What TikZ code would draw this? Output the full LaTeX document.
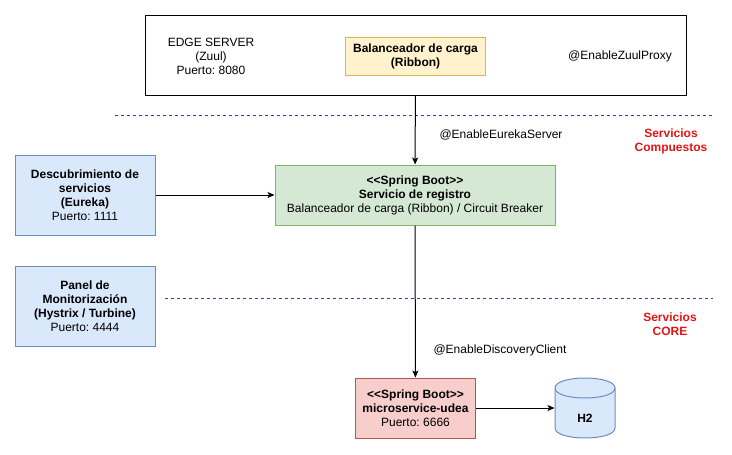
\documentclass[tikz,border=0pt]{standalone}
\usepackage{fontspec}
\setmainfont{Liberation Sans}[Ligatures=TeXOff]
\usetikzlibrary{arrows.meta}
\frenchspacing

\definecolor{bordeazul}{HTML}{6C8EBF}
\definecolor{fondoazul}{HTML}{DAE8FC}
\definecolor{bordeverde}{HTML}{82B366}
\definecolor{fondoverde}{HTML}{D5E8D4}
\definecolor{bordeamarillo}{HTML}{D6B656}
\definecolor{fondoamarillo}{HTML}{FFF2CC}
\definecolor{borderojo}{HTML}{B85450}
\definecolor{fondorojo}{HTML}{F8CECC}
\definecolor{separador}{HTML}{3A3AAE}
\definecolor{rojocapa}{HTML}{E31414}

\begin{document}
\begin{tikzpicture}[x=0.75pt, y=-0.75pt, line width=0.75pt,
  every node/.style={font=\fontsize{9pt}{10.5pt}\selectfont, align=center, inner sep=0pt},
  caja/.style 2 args={draw, minimum width=#1*0.75pt, minimum height=#2*0.75pt},
  flecha/.style={-{Stealth[length=5.25pt, width=4.5pt, inset=1.2pt]}},
  capa/.style={separador, dash pattern=on 2.25pt off 2.25pt},
  etiquetacapa/.style={text=rojocapa, font=\fontsize{9pt}{10.5pt}\selectfont\bfseries}]
% Set the page size (in px)
\useasboundingbox (0,0) rectangle (732,454);

% Edge server and its load balancer
\node[caja={541}{80}] (edge) at (415.5,55) {};
\node (edgetxt) at (211,56) {EDGE SERVER\\(Zuul)\\Puerto: 8080};
\node[caja={140}{38}, draw=bordeamarillo, fill=fondoamarillo] (ribbon) at (415.5,56.5) {\textbf{Balanceador de carga}\\\textbf{(Ribbon)}};
\node (zuulproxy) at (620,56) {@EnableZuulProxy};

% Layer separators
\draw[capa] (115,115) -- (713,115);
\draw[capa] (165,298) -- (713,298);
\node[etiquetacapa] (compuestos) at (671,141) {Servicios\\Compuestos};
\node[etiquetacapa] (core) at (670,324.5) {Servicios\\CORE};

% Composite services
\node[caja={140}{80}, draw=bordeazul, fill=fondoazul] (eureka) at (85,195) {\textbf{Descubrimiento de}\\\textbf{servicios}\\\textbf{(Eureka)}\\Puerto: 1111};
\node[caja={280}{60}, draw=bordeverde, fill=fondoverde] (registro) at (415,195) {\textbf{<<Spring Boot>>}\\\textbf{Servicio de registro}\\Balanceador de carga (Ribbon) / Circuit Breaker};
\node[caja={140}{80}, draw=bordeazul, fill=fondoazul] (panel) at (85,306) {\textbf{Panel de}\\\textbf{Monitorización}\\\textbf{(Hystrix / Turbine)}\\Puerto: 4444};
\node (eurekaserver) at (501,135) {@EnableEurekaServer};

% Core services
\node[caja={120}{60}, draw=borderojo, fill=fondorojo] (udea) at (415.5,408) {\textbf{<<Spring Boot>>}\\\textbf{microservice-udea}\\Puerto: 6666};
\node (discovery) at (500,350) {@EnableDiscoveryClient};

% Database cylinder
\draw[bordeazul, fill=fondoazul] (555,388) -- (555,428) .. controls (555,441.33) and (615,441.33) .. (615,428) -- (615,388) .. controls (615,374.67) and (555,374.67) .. (555,388) -- cycle;
\draw[bordeazul] (555,388) .. controls (555,401.33) and (615,401.33) .. (615,388);
\node[minimum width=45pt, minimum height=45pt] (h2) at (585,408) {};
\node (h2txt) at (585,418) {\textbf{H2}};

% Connectors
\draw[flecha] (edge) -- (registro);
\draw[flecha] (eureka) -- (registro);
\draw[flecha] (registro) -- (udea);
\draw[flecha] (udea) -- (h2);
\end{tikzpicture}
\end{document}
